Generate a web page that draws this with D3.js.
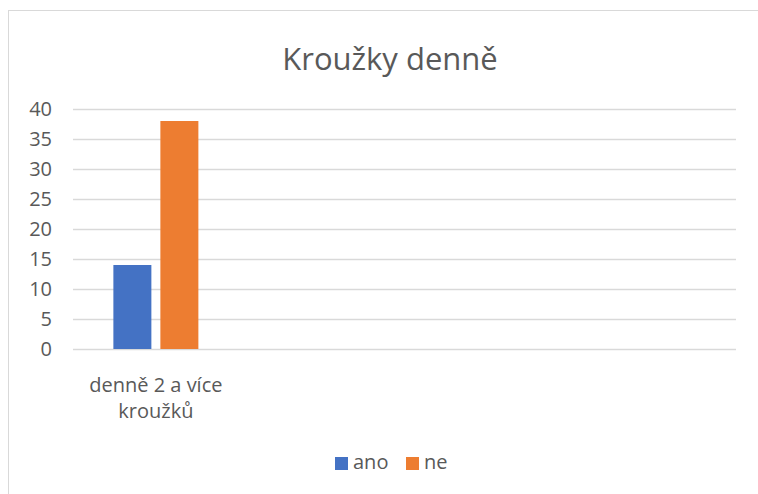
<!DOCTYPE html>
<html>
<head>
<meta charset="utf-8">
<script src="https://cdn.jsdelivr.net/npm/d3@7"></script>
<style>
body { margin: 0; background: #fff; }
svg { display: block; font-family: "Open Sans", "Noto Sans", sans-serif; }
</style>
</head>
<body>
<div id="chart"></div>
<script>
// data
var categories = ["denně 2 a více kroužků", "", "", ""];
var series = ["ano", "ne"];
var ano = [14, null, null, null];
var ne = [38, null, null, null];
var yTicks = [0, 5, 10, 15, 20, 25, 30, 35, 40];
var colors = ["#4472C4", "#ED7D31"];

var W = 758, H = 494;
var margin = {top: 109, right: 22, bottom: 145, left: 73};

var svg = d3.select("#chart").append("svg")
    .attr("width", W)
    .attr("height", H);

// chart frame
svg.append("rect")
    .attr("x", 8.5).attr("y", 10.5)
    .attr("width", 780).attr("height", 520)
    .attr("fill", "none")
    .attr("stroke", "#d9d9d9");

svg.append("text")
    .attr("x", 390).attr("y", 70)
    .attr("text-anchor", "middle")
    .attr("font-size", "31px")
    .attr("fill", "#595959")
    .text("Kroužky denně");

var g = svg.append("g")
    .attr("transform", "translate(" + margin.left + "," + margin.top + ")");

var iw = W - margin.left - margin.right,
    ih = H - margin.top - margin.bottom;

var x = d3.scaleBand().domain(d3.range(categories.length)).range([0, iw]);
var y = d3.scaleLinear().domain([0, 40]).range([ih, 0]);

// gridlines
g.selectAll(".grid")
    .data(yTicks)
    .enter().append("line")
    .attr("x1", 0).attr("x2", iw)
    .attr("y1", function(d){ return Math.round(y(d)) + 0.5; })
    .attr("y2", function(d){ return Math.round(y(d)) + 0.5; })
    .attr("stroke", "#d9d9d9")
    .attr("stroke-width", 1.5);

var yAxis = g.append("g")
    .call(d3.axisLeft(y).tickValues(yTicks).tickSize(0).tickPadding(21));
yAxis.select(".domain").remove();
yAxis.selectAll("text")
    .attr("font-size", "20px")
    .attr("fill", "#595959")
    .attr("font-family", "Open Sans, sans-serif");

// bars
var barW = 38, gap = 9;
var data = [ano, ne];
data.forEach(function(vals, s) {
    g.selectAll(".bar" + s)
        .data(vals.map(function(v, i){ return {i: i, v: v}; }).filter(function(d){ return d.v != null; }))
        .enter().append("rect")
        .attr("x", function(d){
            var c = x(d.i) + x.bandwidth() / 2;
            return s === 0 ? c - gap / 2 - barW : c + gap / 2;
        })
        .attr("y", function(d){ return y(d.v); })
        .attr("width", barW)
        .attr("height", function(d){ return y(0) - y(d.v); })
        .attr("fill", colors[s]);
});

// category labels (wrapped like the original)
var lines = [["denně 2 a více", "kroužků"]];
lines.forEach(function(ls, i) {
    var t = g.append("text")
        .attr("text-anchor", "middle")
        .attr("font-size", "20px")
        .attr("fill", "#595959");
    ls.forEach(function(l, k) {
        t.append("tspan")
            .attr("x", x(i) + x.bandwidth() / 2)
            .attr("y", ih + 43 + k * 26)
            .text(l);
    });
});

// legend
var legendX = [335, 406];
series.forEach(function(s, i) {
    svg.append("rect")
        .attr("x", legendX[i]).attr("y", 457)
        .attr("width", 13).attr("height", 13)
        .attr("fill", colors[i]);
    svg.append("text")
        .attr("x", legendX[i] + 18).attr("y", 469)
        .attr("font-size", "20px")
        .attr("fill", "#595959")
        .text(s);
});
</script>
</body>
</html>
